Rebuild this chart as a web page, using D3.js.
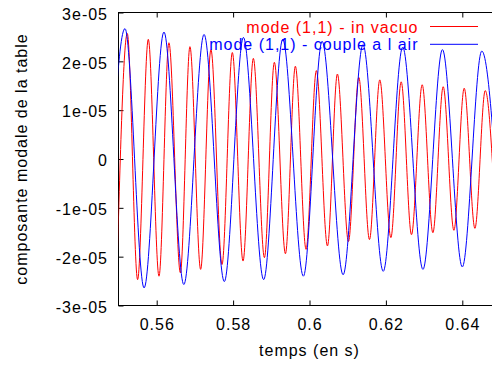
<!DOCTYPE html>
<html>
<head>
<meta charset="utf-8">
<script src="https://cdn.jsdelivr.net/npm/d3@7"></script>
<style>
  html, body { margin: 0; padding: 0; background: #fff; }
  svg { display: block; }
  text { font-family: "Liberation Sans", Arial, sans-serif; font-size: 16px; letter-spacing: 1px; }
</style>
</head>
<body>
<svg id="chart" width="492" height="367"></svg>
<script>
// ---- data (extrema of each oscillation) ----
const redTime = [0.5495, 0.5523, 0.5550, 0.5578, 0.5606, 0.5632, 0.5662, 0.5687, 0.5715, 0.5742,
                 0.5771, 0.5798, 0.5826, 0.5853, 0.5882, 0.5908, 0.5937, 0.5963, 0.5991, 0.6018,
                 0.6047, 0.6073, 0.6102, 0.6129, 0.6157, 0.6184, 0.6213, 0.6240, 0.6267, 0.6295,
                 0.6323, 0.6350, 0.6378, 0.6405, 0.6433, 0.6460, 0.6488];
const redValue = [-2.55e-5, 2.57e-5, -2.47e-5, 2.45e-5, -2.40e-5, 2.38e-5, -2.33e-5, 2.30e-5, -2.26e-5, 2.24e-5,
                  -2.16e-5, 2.18e-5, -2.09e-5, 2.06e-5, -2.02e-5, 1.98e-5, -1.94e-5, 1.90e-5, -1.85e-5, 1.81e-5,
                  -1.78e-5, 1.74e-5, -1.69e-5, 1.67e-5, -1.65e-5, 1.62e-5, -1.61e-5, 1.58e-5, -1.55e-5, 1.52e-5,
                  -1.51e-5, 1.48e-5, -1.46e-5, 1.45e-5, -1.42e-5, 1.40e-5, -1.38e-5];
const blueTime = [0.5465, 0.5517, 0.5567, 0.5619, 0.5671, 0.5724, 0.5777, 0.5827, 0.5880, 0.5930,
                  0.5984, 0.6033, 0.6088, 0.6140, 0.6193, 0.6244, 0.6297, 0.6348, 0.6400, 0.6451, 0.6503];
const blueValue = [-2.70e-5, 2.67e-5, -2.64e-5, 2.60e-5, -2.57e-5, 2.55e-5, -2.51e-5, 2.49e-5, -2.47e-5, 2.45e-5,
                   -2.40e-5, 2.41e-5, -2.37e-5, 2.34e-5, -2.30e-5, 2.29e-5, -2.26e-5, 2.24e-5, -2.21e-5, 2.21e-5, -2.17e-5];
const seriesNames = ["mode (1,1) - in vacuo", "mode (1,1) - couple a l air"];
const seriesColors = ["#ff0000", "#0000ff"];
const xTicks = [0.56, 0.58, 0.60, 0.62, 0.64];
const xTickLabels = ["0.56", "0.58", "0.6", "0.62", "0.64"];
const yTicks = [-3e-5, -2e-5, -1e-5, 0, 1e-5, 2e-5, 3e-5];
const yTickLabels = ["-3e-05", "-2e-05", "-1e-05", "0", "1e-05", "2e-05", "3e-05"];
const xLabel = "temps (en s)";
const yLabel = "composante modale de la table";

// ---- layout ----
const L = 118.5, R = 500.5, T = 12.5, B = 305.5;
const svg = d3.select("#chart");
const x = d3.scaleLinear().domain([0.55, 0.65]).range([L, R]);
const y = d3.scaleLinear().domain([-3e-5, 3e-5]).range([B, T]);

svg.append("defs").append("clipPath").attr("id", "clip")
  .append("rect").attr("x", L).attr("y", T).attr("width", R - L).attr("height", B - T);

// axes (gnuplot style: inward ticks, mirrored)
const xi = d3.scaleOrdinal().domain(xTicks).range(xTickLabels);
const yi = d3.scaleOrdinal().domain(yTicks).range(yTickLabels);

const gx = svg.append("g").attr("transform", `translate(0,${B})`)
  .call(d3.axisBottom(x).tickValues(xTicks).tickFormat(d => xi(d)).tickSizeInner(-5).tickSizeOuter(0).tickPadding(13));
const gxt = svg.append("g").attr("transform", `translate(0,${T})`)
  .call(d3.axisTop(x).tickValues(xTicks).tickFormat("").tickSizeInner(-5).tickSizeOuter(0));
const gy = svg.append("g").attr("transform", `translate(${L},0)`)
  .call(d3.axisLeft(y).tickValues(yTicks).tickFormat(d => yi(d)).tickSizeInner(-5).tickSizeOuter(0).tickPadding(10.5));
const gyr = svg.append("g").attr("transform", `translate(${R},0)`)
  .call(d3.axisRight(y).tickValues(yTicks).tickFormat("").tickSizeInner(-5).tickSizeOuter(0));

[gx, gxt, gy, gyr].forEach(g => {
  g.select(".domain").remove();
  g.selectAll(".tick line").attr("stroke", "#000");
  g.selectAll("text").attr("fill", "#000").style("font-size", "16px")
    .style("font-family", '"Liberation Sans", Arial, sans-serif');
});
gy.selectAll(".tick text").attr("dy", "0.42em");

svg.append("rect").attr("x", L).attr("y", T).attr("width", R - L).attr("height", B - T)
  .attr("fill", "none").attr("stroke", "#000").attr("stroke-width", 1);

// axis labels
svg.append("text").attr("x", (L + R) / 2).attr("y", 355.5).attr("text-anchor", "middle").text(xLabel);
svg.append("text").attr("transform", "translate(27,159) rotate(-90)").attr("text-anchor", "middle").text(yLabel);

// series
const series = [
  { name: seriesNames[0], color: seriesColors[0], pts: redTime.map((t, i) => [t, redValue[i]]) },
  { name: seriesNames[1], color: seriesColors[1], pts: blueTime.map((t, i) => [t, blueValue[i]]) }
];
const line = d3.line().x(d => x(d[0])).y(d => y(d[1])).curve(d3.curveMonotoneX);

series.forEach((s, i) => {
  const ly = 26.5 + i * 17.8;
  svg.append("text").attr("x", 418.5).attr("y", ly + 6).attr("text-anchor", "end")
    .attr("fill", s.color).text(s.name);
  svg.append("line").attr("x1", 430).attr("x2", 478).attr("y1", ly).attr("y2", ly)
    .attr("stroke", s.color).attr("stroke-width", 1);
  svg.append("path").datum(s.pts).attr("clip-path", "url(#clip)")
    .attr("fill", "none").attr("stroke", s.color).attr("stroke-width", 1).attr("d", line);
});
</script>
</body>
</html>
